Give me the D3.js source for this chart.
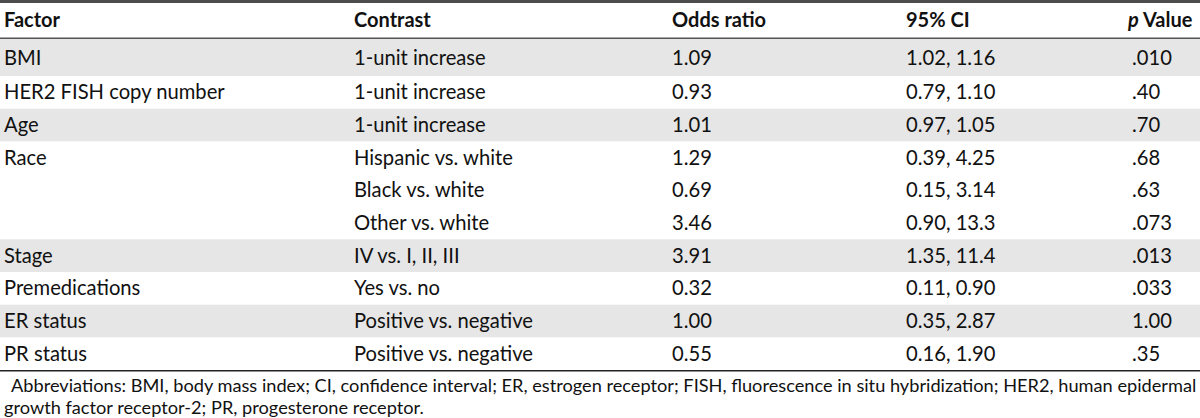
<!DOCTYPE html>
<html>
<head>
<meta charset="utf-8">
<script src="https://cdn.jsdelivr.net/npm/d3@7"></script>
<style>
  html, body { margin: 0; padding: 0; background: #fff; }
  svg { display: block; }
</style>
</head>
<body>
<svg id="chart"></svg>
<script>
const headers = ['Factor', 'Contrast', 'Odds ratio', '95% CI', 'Value']
const factors = ['BMI', 'HER2 FISH copy number', 'Age', 'Race', '', '', 'Stage', 'Premedications', 'ER status', 'PR status']
const contrasts = ['1-unit increase', '1-unit increase', '1-unit increase', 'Hispanic vs. white', 'Black vs. white',
  'Other vs. white', 'IV vs. I, II, III', 'Yes vs. no', 'Positive vs. negative', 'Positive vs. negative']
const oddsRatios = ['1.09', '0.93', '1.01', '1.29', '0.69', '3.46', '3.91', '0.32', '1.00', '0.55']
const ciLow = ['1.02', '0.79', '0.97', '0.39', '0.15', '0.90', '1.35', '0.11', '0.35', '0.16']
const ciHigh = ['1.16', '1.10', '1.05', '4.25', '3.14', '13.3', '11.4', '0.90', '2.87', '1.90']
const pValues = ['.010', '.40', '.70', '.68', '.63', '.073', '.013', '.033', '1.00', '.35']
const footnote = [
  'Abbreviations: BMI, body mass index; CI, confidence interval; ER, estrogen receptor; FISH, fluorescence in situ hybridization; HER2, human epidermal',
  'growth factor receptor-2; PR, progesterone receptor.'
]

const width = 1200
const height = 418
const font = 'Lato, Carlito, Calibri, sans-serif'

const svg = d3.select('#chart')
  .attr('width', width)
  .attr('height', height)

// row index -> top edge (first row is a bit taller)
const y = d3.scaleLinear()
  .domain([0, 1, factors.length])
  .range([39, 76, 370])

const colX = [4, 354, 672, 906, 1132]

// group rows by factor so shading alternates per factor
let group = -1
const rows = factors.map((f, i) => {
  if (f !== '') group++
  return {
    i, group,
    cells: [f, contrasts[i], oddsRatios[i], `${ciLow[i]}, ${ciHigh[i]}`, pValues[i]]
  }
})

svg.append('g')
  .selectAll('rect')
  .data(rows.filter(r => r.group % 2 === 0))
  .join('rect')
  .attr('x', 0)
  .attr('width', width)
  .attr('y', d => y(d.i))
  .attr('height', d => y(d.i + 1) - y(d.i))
  .attr('fill', '#e6e6e6')

// rules
svg.append('rect').attr('x', 0).attr('y', 0).attr('width', width).attr('height', 3).attr('fill', '#4d4d4d')
svg.append('rect').attr('x', 0).attr('y', 37.5).attr('width', width).attr('height', 1.5).attr('fill', '#555')
svg.append('rect').attr('x', 0).attr('y', 370).attr('width', width).attr('height', 1.5).attr('fill', '#222')

// header
const head = svg.append('g')
  .attr('font-family', font)
  .attr('font-size', 20)
  .attr('font-weight', 'bold')
  .attr('fill', '#111')

head.selectAll('text')
  .data(headers)
  .join('text')
  .attr('x', (d, i) => i === 4 ? colX[i] - 4 : colX[i])
  .attr('y', 20)
  .attr('dy', '0.35em')
  .each(function(d, i) {
    const t = d3.select(this)
    if (i === 4) {
      t.append('tspan').attr('font-style', 'italic').text('p')
      t.append('tspan').text(' ' + d)
    } else {
      t.text(d)
    }
  })

// body
const body = svg.append('g')
  .attr('font-family', font)
  .attr('font-size', 20.2)
  .attr('fill', '#111')

body.selectAll('g')
  .data(rows)
  .join('g')
  .attr('transform', d => `translate(0, ${(y(d.i) + y(d.i + 1)) / 2})`)
  .selectAll('text')
  .data(d => d.cells)
  .join('text')
  .attr('x', (d, i) => colX[i])
  .attr('dy', '0.35em')
  .text(d => d)

// footnote
svg.append('g')
  .attr('font-family', font)
  .attr('font-size', 18.2)
  .attr('fill', '#111')
  .selectAll('text')
  .data(footnote)
  .join('text')
  .attr('x', (d, i) => i === 0 ? 11 : 4)
  .attr('y', (d, i) => 386 + i * 22)
  .attr('dy', '0.35em')
  .text(d => d)
</script>
</body>
</html>
